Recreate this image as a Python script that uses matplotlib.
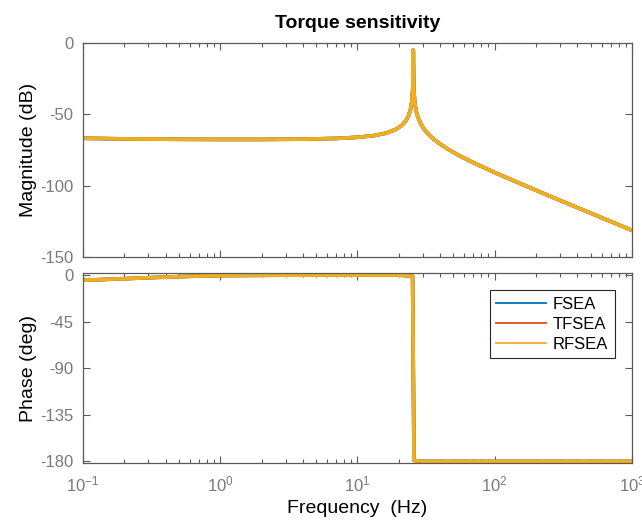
import matplotlib.pyplot as plt
from matplotlib.lines import Line2D
from matplotlib.ticker import LogLocator, NullFormatter, FixedLocator

plt.rcParams['font.family'] = 'Liberation Sans'
plt.rcParams['mathtext.fontset'] = 'custom'
plt.rcParams['mathtext.rm'] = 'Liberation Sans'
plt.rcParams['mathtext.it'] = 'Liberation Sans:italic'
plt.rcParams['axes.unicode_minus'] = False

# Bode data (the three actuator models overlap almost exactly)
series_labels = ['FSEA', 'TFSEA', 'RFSEA']
series_colors = ['#0072BD', '#D95319', '#EDB120']

freq_mag = [0.1, 0.2, 0.5, 1, 2, 4, 7, 10, 13, 16, 19, 21, 22.5, 23.5, 24.3,
            24.9, 25.3, 25.5, 25.7, 26.1, 26.7, 27.5, 29, 31, 34, 38, 45, 55,
            70, 100, 150, 250, 400, 650, 1000]
mag_db = [-66.8, -67.2, -67.5, -67.6, -67.6, -67.4, -66.9, -66.1, -65.0,
          -63.3, -60.6, -57.8, -54.5, -51.2, -46.9, -41.0, -31.5, -5.0, -31.5,
          -41.2, -47.3, -51.8, -56.9, -61.2, -65.4, -69.3, -74.1, -78.9, -83.9,
          -90.8, -98.1, -107.2, -115.4, -123.8, -131.3]

freq_phase = [0.1, 0.2, 0.35, 0.6, 1, 2, 5, 10, 20, 25.2, 25.4, 25.6, 25.8,
              30, 100, 1000]
phase_deg = [-5.0, -3.5, -2.2, -1.2, -0.5, -0.2, 0, 0, 0, -1.0, -60, -120,
             -179, -180, -180, -180]

spine_gray = '#5a5a5a'
tick_gray = '#7a7a7a'


def style_axes(ax):
    ax.set_xscale('log')
    ax.set_xlim(0.1, 1000)
    ax.xaxis.set_major_locator(LogLocator(base=10, numticks=10))
    ax.xaxis.set_minor_locator(LogLocator(base=10, subs=range(2, 10), numticks=10))
    ax.xaxis.set_minor_formatter(NullFormatter())
    ax.tick_params(which='both', direction='in', top=True, right=True,
                   colors=spine_gray, labelcolor=tick_gray, labelsize=12)
    ax.tick_params(which='major', length=5, width=0.8)
    ax.tick_params(which='minor', length=3, width=0.8)
    ax.tick_params(axis='y', pad=7)
    ax.tick_params(axis='x', pad=8)
    for sp in ax.spines.values():
        sp.set_color(spine_gray)
        sp.set_linewidth(0.9)


fig = plt.figure(figsize=(6.42, 5.23), dpi=100)
ax_mag = fig.add_axes([0.1293, 0.5086, 0.8551, 0.4092])
ax_ph = fig.add_axes([0.1293, 0.1147, 0.8551, 0.3633])

for label, color in zip(series_labels, series_colors):
    ax_mag.plot(freq_mag, mag_db, color=color, lw=2.6, label=label)
    ax_ph.plot(freq_phase, phase_deg, color=color, lw=2.6, label=label)

style_axes(ax_mag)
style_axes(ax_ph)

ax_mag.set_ylim(-150, 0)
ax_mag.yaxis.set_major_locator(FixedLocator([-150, -100, -50, 0]))
ax_mag.tick_params(axis='x', labelbottom=False)
ax_mag.set_ylabel('Magnitude (dB)', fontsize=14, labelpad=2)
ax_mag.set_title('Torque sensitivity', fontsize=14, fontweight='bold', pad=11)

ax_ph.set_ylim(-181.5, 2)
ax_ph.yaxis.set_major_locator(FixedLocator([-180, -135, -90, -45, 0]))
ax_ph.set_ylabel('Phase (deg)', fontsize=14, labelpad=2)
ax_ph.set_xlabel('Frequency  (Hz)', fontsize=14, labelpad=4)

# legend uses thin sample lines
handles = [Line2D([], [], color=c, lw=1.3) for c in series_colors]
leg = ax_ph.legend(handles, series_labels, loc='upper right',
                   bbox_to_anchor=(0.969, 0.911), borderaxespad=0,
                   fontsize=12, handlelength=3.0, handletextpad=0.4,
                   labelspacing=0.3, borderpad=0.4, fancybox=False,
                   framealpha=1, edgecolor='#262626')
leg.get_frame().set_linewidth(0.8)

fig.savefig('out.png', dpi=100, facecolor='white')
